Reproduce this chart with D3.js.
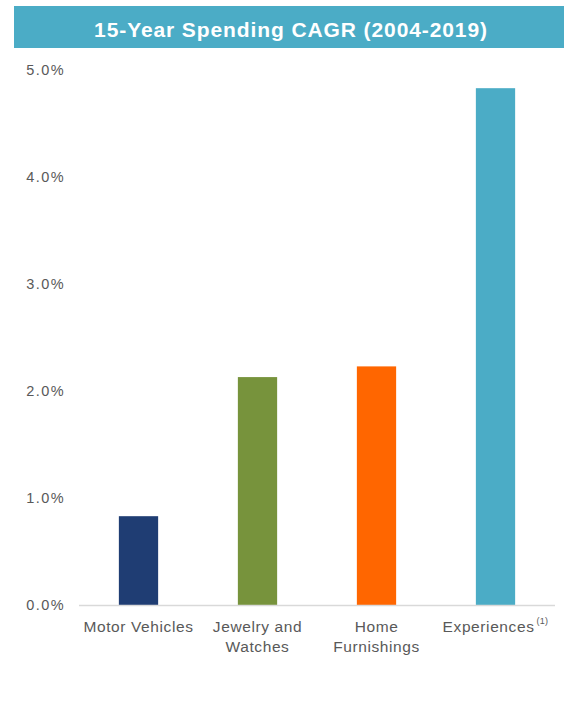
<!DOCTYPE html>
<html>
<head>
<meta charset="utf-8">
<script src="https://cdn.jsdelivr.net/npm/d3@7"></script>
<style>
body { margin: 0; background: #fff; }
text { font-family: "Liberation Sans", Arial, sans-serif; }
</style>
</head>
<body>
<svg width="564" height="713"></svg>
<script>
var categories = ["Motor Vehicles", "Jewelry and|Watches", "Home|Furnishings", "Experiences"];
var values = [0.0083, 0.0213, 0.0223, 0.0483];
var colors = ["#1f3d73", "#77933c", "#ff6600", "#4bacc6"];
var tickValues = [0, 0.01, 0.02, 0.03, 0.04, 0.05];

var svg = d3.select("svg");

// title bar
svg.append("rect")
.attr("x", 14).attr("y", 6)
.attr("width", 550).attr("height", 42)
.attr("fill", "#4bacc6");

svg.append("text")
.attr("x", 291).attr("y", 37)
.attr("text-anchor", "middle")
.attr("fill", "#fff")
.style("font-size", "21px")
.style("font-weight", "bold")
.style("letter-spacing", "0.9px")
.text("15-Year Spending CAGR (2004-2019)");

var xScale = d3.scaleBand().domain(categories).range([79, 555]).paddingInner(0.67).paddingOuter(0.335);
var yScale = d3.scaleLinear().domain([0, 0.05]).range([605, 70]);

// y axis labels
var yAxis = svg.append("g")
.attr("transform", "translate(65,0)")
.call(d3.axisLeft(yScale).tickValues(tickValues).tickFormat(d3.format(".1%")).tickSize(0).tickPadding(0));
yAxis.select(".domain").remove();
yAxis.selectAll("text")
.attr("fill", "#595959")
.style("font-size", "14.5px")
.style("letter-spacing", "1.4px")
.style("font-family", "\"Liberation Sans\", Arial, sans-serif");

// bars
svg.selectAll(".bar")
.data(values)
.enter()
.append("rect")
.attr("class", "bar")
.attr("x", (d, i) => xScale(categories[i]))
.attr("y", (d) => yScale(d))
.attr("width", xScale.bandwidth())
.attr("height", (d) => yScale(0) - yScale(d))
.attr("fill", (d, i) => colors[i]);

// baseline
svg.append("line")
.attr("x1", 79).attr("x2", 555)
.attr("y1", yScale(0) + 0.5).attr("y2", yScale(0) + 0.5)
.attr("stroke", "#d9d9d9")
.attr("stroke-width", 1.5);

// category labels
categories.forEach(function(c) {
  var lines = c.split("|");
  var cx = xScale(c) + xScale.bandwidth() / 2;
  var t = svg.append("text")
  .attr("x", cx).attr("y", 632)
  .attr("text-anchor", "middle")
  .attr("fill", "#595959")
  .style("font-size", "15.5px")
  .style("letter-spacing", "0.6px");
  lines.forEach(function(l, j) {
    t.append("tspan").attr("x", cx).attr("dy", j ? 20 : 0).text(l);
  });
  if (c === "Experiences") {
    t.append("tspan").attr("dy", -8).attr("dx", 2).style("font-size", "9px").style("letter-spacing", "0.3px").text("(1)");
  }
});
</script>
</body>
</html>
